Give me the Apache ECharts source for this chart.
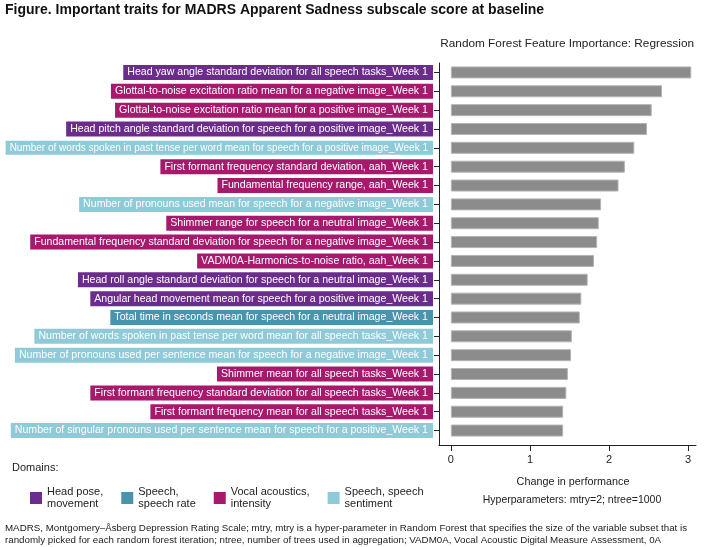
<!DOCTYPE html>
<html>
<head>
<meta charset="utf-8">
<script src="https://cdn.jsdelivr.net/npm/echarts@6/dist/echarts.min.js"></script>
<style>
  html, body { margin: 0; padding: 0; background: #fff; }
  #chart { width: 704px; height: 547px; }
</style>
</head>
<body>
<div id="chart"></div>
<script>
const categories = [
  "Head yaw angle standard deviation for all speech tasks_Week 1",
  "Glottal-to-noise excitation ratio mean for a negative image_Week 1",
  "Glottal-to-noise excitation ratio mean for a positive image_Week 1",
  "Head pitch angle standard deviation for speech for a positive image_Week 1",
  "Number of words spoken in past tense per word mean for speech for a positive image_Week 1",
  "First formant frequency standard deviation, aah_Week 1",
  "Fundamental frequency range, aah_Week 1",
  "Number of pronouns used mean for speech for a negative image_Week 1",
  "Shimmer range for speech for a neutral image_Week 1",
  "Fundamental frequency standard deviation for speech for a negative image_Week 1",
  "VADM0A-Harmonics-to-noise ratio, aah_Week 1",
  "Head roll angle standard deviation for speech for a neutral image_Week 1",
  "Angular head movement mean for speech for a positive image_Week 1",
  "Total time in seconds mean for speech for a neutral image_Week 1",
  "Number of words spoken in past tense per word mean for all speech tasks_Week 1",
  "Number of pronouns used per sentence mean for speech for a negative image_Week 1",
  "Shimmer mean for all speech tasks_Week 1",
  "First formant frequency standard deviation for all speech tasks_Week 1",
  "First formant frequency mean for all speech tasks_Week 1",
  "Number of singular pronouns used per sentence mean for speech for a positive_Week 1"
];
// domain index of each category (see domainNames)
const domains = [0, 2, 2, 0, 3, 2, 2, 3, 2, 2, 2, 0, 0, 1, 3, 3, 2, 2, 2, 3];
const importance = [3.04, 2.67, 2.54, 2.48, 2.32, 2.20, 2.12, 1.90, 1.87, 1.85,
                    1.81, 1.73, 1.65, 1.63, 1.53, 1.52, 1.48, 1.46, 1.42, 1.42];
const domainNames = ["Head pose,\nmovement", "Speech,\nspeech rate", "Vocal acoustics,\nintensity", "Speech, speech\nsentiment"];
const domainColors = ["#6b2c8c", "#4b93ad", "#a6196c", "#8ecad8"];
const xTicks = [0, 1, 2, 3];

const font = "Liberation Sans, Arial, sans-serif";
const chart = echarts.init(document.getElementById("chart"));

// label boxes coloured by domain; very long labels are squeezed a little
const rich = {};
domainColors.forEach((c, i) => {
  const base = {
    backgroundColor: c,
    color: "#fff",
    lineHeight: 11,
    fontFamily: font,
    padding: [2, 5, 2, 4]
  };
  rich["d" + i] = Object.assign({ fontSize: 10.6 }, base);
  rich["s" + i] = Object.assign({ fontSize: 10 }, base);
});

chart.setOption({
  animation: false,
  textStyle: { fontFamily: font },
  grid: { left: 439, right: 8, top: 63, bottom: 107, containLabel: false, outerBoundsMode: "none" },
  legend: {
    left: 25,
    top: 481,
    icon: "rect",
    itemWidth: 12,
    itemHeight: 12,
    itemGap: 18,
    selectedMode: false,
    textStyle: { fontSize: 11, lineHeight: 12, color: "#222", fontFamily: font },
    data: domainNames
  },
  xAxis: {
    type: "value",
    min: -0.15,
    max: 3.1,
    offset: 5,
    splitLine: { show: false },
    axisLine: { show: true, lineStyle: { color: "#222" } },
    axisTick: { show: true, length: 6, customValues: xTicks, lineStyle: { color: "#222" } },
    axisLabel: { customValues: xTicks, margin: 9, fontSize: 11, color: "#222" }
  },
  yAxis: {
    type: "category",
    inverse: true,
    data: categories,
    axisLine: { show: true, onZero: false, lineStyle: { color: "#222" } },
    axisTick: { show: true, length: 5, alignWithLabel: true, lineStyle: { color: "#222" } },
    axisLabel: {
      margin: 6,
      interval: 0,
      formatter: (v, i) => "{" + (v.length > 85 ? "s" : "d") + domains[i] + "|" + v + "}",
      rich: rich
    }
  },
  series: [
    {
      type: "bar",
      data: importance,
      barWidth: 12,
      itemStyle: { color: "#8c8c8c", borderColor: "#b4b4b4", borderWidth: 1 }
    }
  ].concat(domainNames.map((n, i) => ({
    type: "line", name: n, data: [], itemStyle: { color: domainColors[i] }
  }))),
  graphic: [
    { type: "line", shape: { x1: 439.5, y1: 440, x2: 439.5, y2: 445 }, style: { stroke: "#222" } },
    { type: "text", x: 5, y: 10, style: { text: "Figure. Important traits for MADRS Apparent Sadness subscale score at baseline",
      font: "bold 14px " + font, fill: "#111", textVerticalAlign: "middle" } },
    { type: "text", x: 694, y: 44, style: { text: "Random Forest Feature Importance: Regression",
      font: "11.8px " + font, fill: "#222", textAlign: "right", textVerticalAlign: "middle" } },
    { type: "text", x: 573, y: 482, style: { text: "Change in performance",
      font: "10.8px " + font, fill: "#222", textAlign: "center", textVerticalAlign: "middle" } },
    { type: "text", x: 572, y: 500, style: { text: "Hyperparameters: mtry=2; ntree=1000",
      font: "10.5px " + font, fill: "#222", textAlign: "center", textVerticalAlign: "middle" } },
    { type: "text", x: 12, y: 468, style: { text: "Domains:",
      font: "11px " + font, fill: "#222", textVerticalAlign: "middle" } },
    { type: "text", x: 5, y: 522, style: {
      text: "MADRS, Montgomery\u2013\u00c5sberg Depression Rating Scale; mtry, mtry is a hyper-parameter in Random Forest that specifies the size of the variable subset that is\nrandomly picked for each random forest iteration; ntree, number of trees used in aggregation; VADM0A, Vocal Acoustic Digital Measure Assessment, 0A",
      font: "9.75px " + font, lineHeight: 12, fill: "#222" } }
  ]
});
window.onresize = function () {
  chart.resize();
};
</script>
</body>
</html>
